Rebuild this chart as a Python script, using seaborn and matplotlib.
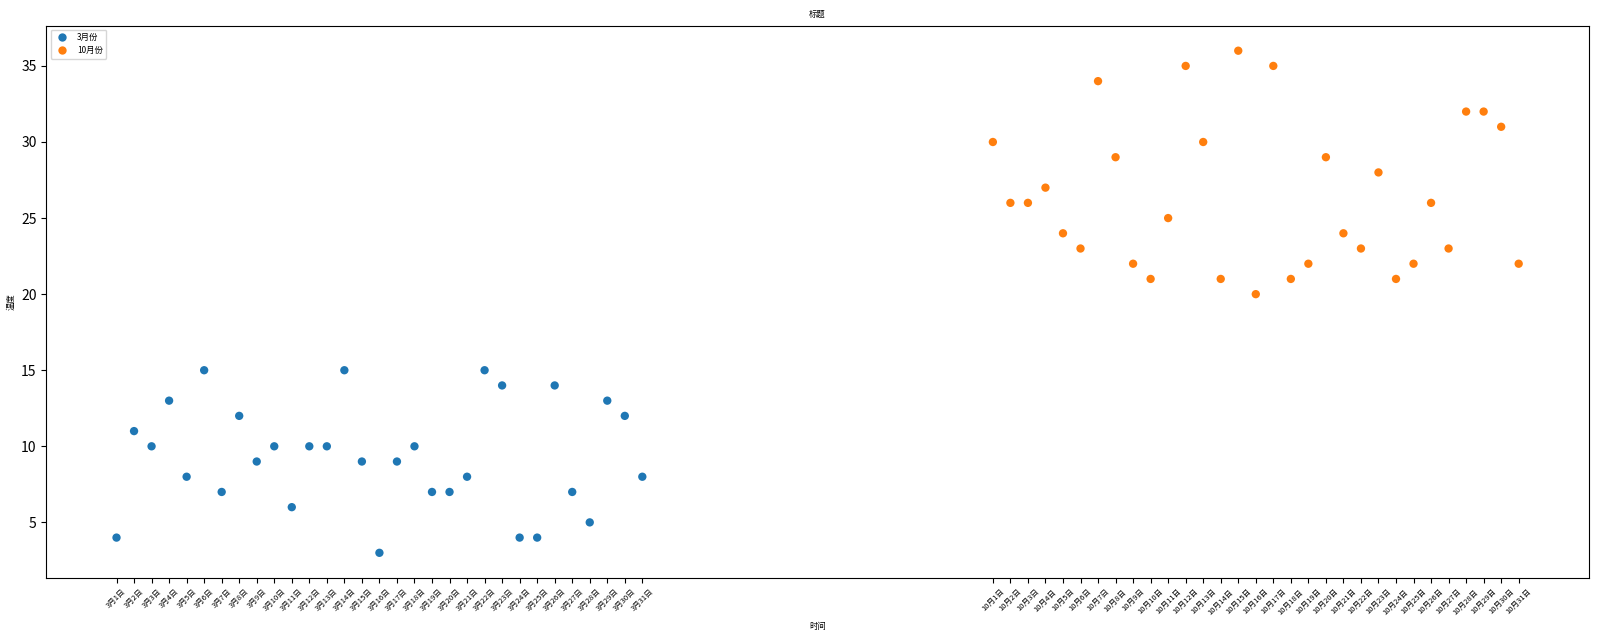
import pandas as pd
import seaborn as sns
import matplotlib.pyplot as plt

plt.rcParams['font.family'] = ['Noto Sans CJK SC', 'DejaVu Sans']

# 3月 / 10月 每日温度
days = list(range(1, 32))
temp_march = [4, 11, 10, 13, 8, 15, 7, 12, 9, 10, 6, 10, 10, 15, 9, 3,
              9, 10, 7, 7, 8, 15, 14, 4, 4, 14, 7, 5, 13, 12, 8]
temp_october = [30, 26, 26, 27, 24, 23, 34, 29, 22, 21, 25, 35, 30, 21, 36, 20,
                35, 21, 22, 29, 24, 23, 28, 21, 22, 26, 23, 32, 32, 31, 22]

x_march = days
x_october = [d + 50 for d in days]
labels_march = [f'3月{d}日' for d in days]
labels_october = [f'10月{d}日' for d in days]

df = pd.DataFrame({
    'x': x_march + x_october,
    'temp': temp_march + temp_october,
    'month': ['3月份'] * 31 + ['10月份'] * 31,
})

fig, ax = plt.subplots(figsize=(16, 6.4), dpi=100)
sns.scatterplot(data=df, x='x', y='temp', hue='month', s=36, linewidth=0,
                palette=['#1f77b4', '#ff7f0e'], ax=ax)

ax.set_xticks(x_march + x_october)
ax.set_xticklabels(labels_march + labels_october, rotation=45, fontsize=5.5)
ax.set_title('标题', fontsize=6)
ax.set_xlabel('时间', fontsize=6)
ax.set_ylabel('温度', fontsize=6)
ax.legend(loc='upper left', prop={'size': 6, 'family': ['Noto Sans CJK SC']})

plt.subplots_adjust(left=0.029, right=0.993, top=0.960, bottom=0.097)
fig.savefig('out.png')
